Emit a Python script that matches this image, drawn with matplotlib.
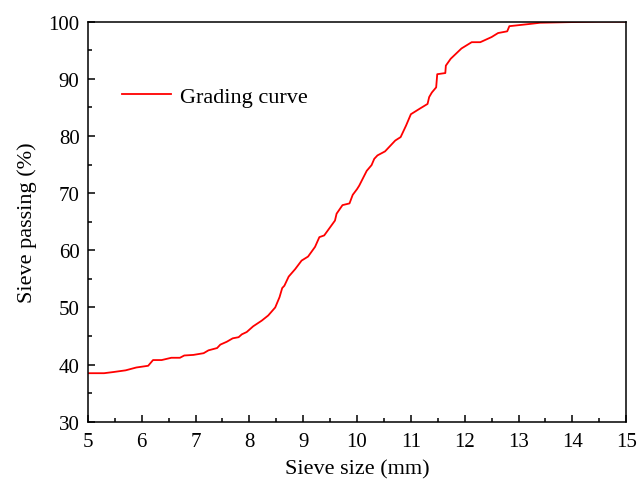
"""
Grading curve of the aggregate: sieve passing vs sieve size.
"""

import matplotlib
matplotlib.use("Agg")
import matplotlib.pyplot as plt
from matplotlib.ticker import MultipleLocator

# Data
sieve_size = [5.00, 5.30, 5.47, 5.70, 5.90, 6.12, 6.21, 6.37, 6.55, 6.71, 6.79,
              6.96, 7.15, 7.24, 7.40, 7.46, 7.58, 7.69, 7.80, 7.86, 7.95, 8.07,
              8.23, 8.35, 8.48, 8.56, 8.61, 8.65, 8.73, 8.85, 8.97, 9.09, 9.22,
              9.30, 9.39, 9.59, 9.62, 9.73, 9.86, 9.92, 10.00, 10.04, 10.18,
              10.27, 10.32, 10.38, 10.52, 10.71, 10.81, 10.91, 11.00, 11.17,
              11.31, 11.34, 11.39, 11.47, 11.49, 11.64, 11.65, 11.74, 11.94,
              12.13, 12.29, 12.50, 12.62, 12.79, 12.83, 13.22, 13.40, 13.90,
              14.50, 15.00]
passing = [38.5, 38.5, 38.7, 39.0, 39.5, 39.8, 40.8, 40.8, 41.2, 41.2, 41.6,
           41.7, 42.0, 42.5, 42.9, 43.5, 44.0, 44.6, 44.8, 45.3, 45.7, 46.7,
           47.7, 48.6, 50.0, 51.8, 53.4, 53.8, 55.4, 56.7, 58.2, 58.9, 60.6,
           62.3, 62.6, 65.2, 66.4, 67.9, 68.2, 69.7, 70.7, 71.3, 73.9,
           74.9, 76.0, 76.6, 77.3, 79.2, 79.8, 81.8, 83.8, 84.8,
           85.6, 86.8, 87.6, 88.5, 90.8, 91.0, 92.3, 93.5, 95.3,
           96.4, 96.4, 97.3, 98.0, 98.3, 99.2, 99.6, 99.8, 99.9,
           100.0, 100.0]

plt.rcParams["font.family"] = ["Liberation Serif", "DejaVu Serif"]

fig = plt.figure(figsize=(6.37, 4.81), dpi=100)
ax = fig.add_axes([0.138, 0.121, 0.845, 0.832])

ax.plot(sieve_size, passing, color="#ff0000", lw=1.3, label="Grading curve")

ax.set_xlim(5, 15)
ax.set_ylim(30, 100)
ax.xaxis.set_major_locator(MultipleLocator(1))
ax.xaxis.set_minor_locator(MultipleLocator(0.5))
ax.yaxis.set_major_locator(MultipleLocator(10))
ax.yaxis.set_minor_locator(MultipleLocator(5))
ax.tick_params(which="both", direction="in", top=False, right=False,
               width=1.1, labelsize=15)
ax.tick_params(which="major", length=5)
ax.tick_params(axis="x", which="major", pad=7)
ax.tick_params(axis="y", which="major", pad=6)
ax.tick_params(which="minor", length=3)
for sp in ax.spines.values():
    sp.set_linewidth(1.1)

ax.set_xlabel("Sieve size (mm)", fontsize=16, labelpad=6)
ax.set_ylabel("Sieve passing (%)", fontsize=16, labelpad=8)

ax.legend(loc="center left", bbox_to_anchor=(0.063, 0.812), frameon=False,
          fontsize=16, handlelength=2.2, handletextpad=0.4, borderpad=0,
          borderaxespad=0)

fig.savefig("out.png", dpi=100)
